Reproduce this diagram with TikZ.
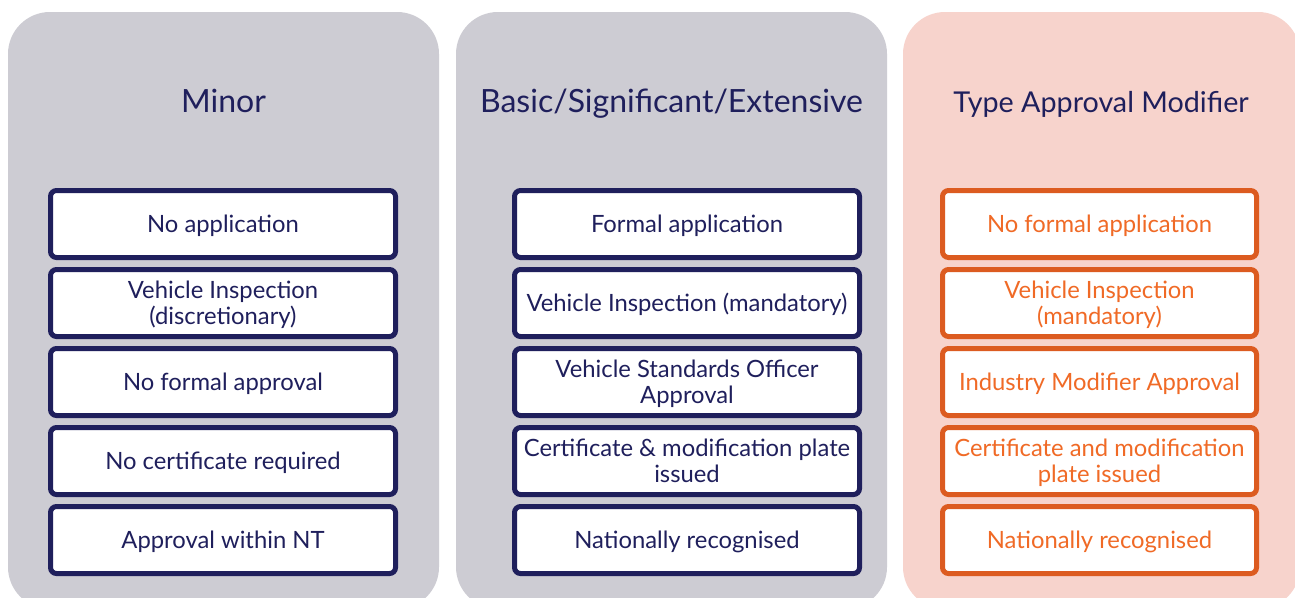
\documentclass[tikz,border=0pt]{standalone}
\usepackage{fontspec}
\setmainfont{Lato}
\definecolor{navy}{HTML}{1F1F5C}
\definecolor{panelgray}{HTML}{CDCCD3}
\definecolor{panelpink}{HTML}{F7D3CC}
\definecolor{orangeb}{HTML}{DC5B20}
\definecolor{oranget}{HTML}{F06A26}
\tikzset{
  panel/.style={rounded corners=42pt},
  ttl/.style={anchor=base, text=navy, font=\fontsize{32}{38}\selectfont, inner sep=0pt},
  boxbase/.style={draw, line width=5pt, fill=white, rounded corners=6pt, inner sep=0pt,
    minimum height=67pt, align=center, font=\fontsize{23.8}{26}\selectfont,
    text height=17pt, text depth=0pt},
  navybox/.style={boxbase, draw=navy, text=navy, minimum width=345pt},
  orangebox/.style={boxbase, draw=orangeb, text=oranget, minimum width=314pt},
  twoline/.style={text height=43pt, text depth=0pt}
}
\begin{document}
\begin{tikzpicture}[x=1pt,y=-1pt]
\useasboundingbox (0,0) rectangle (1295,597);
\clip (0,0) rectangle (1295,597);
\fill[white] (0,0) rectangle (1295,597);
% panels
\fill[panelgray, panel] (8,12) rectangle (439,609);
\fill[panelgray, panel] (456,12) rectangle (887,609);
\fill[panelpink, panel] (903,12) rectangle (1300,609);
% titles
\node[ttl] (t1) at (223.5,112) {Minor};
\node[ttl] (t2) at (671.5,112) {Basic/Significant/Extensive};
\node[ttl, font=\fontsize{28.7}{34}\selectfont] (t3) at (1101,112) {Type Approval Modifier};
% column 1
\node[navybox] (a1) at (223,224) {No application};
\node[navybox, twoline] (a2) at (223,303) {Vehicle Inspection\\(discretionary)};
\node[navybox] (a3) at (223,382) {No formal approval};
\node[navybox] (a4) at (223,461) {No certificate required};
\node[navybox] (a5) at (223,540) {Approval within NT};
% column 2
\node[navybox] (b1) at (687,224) {Formal application};
\node[navybox] (b2) at (687,303) {Vehicle Inspection (mandatory)};
\node[navybox, twoline] (b3) at (687,382) {Vehicle Standards Officer\\Approval};
\node[navybox, twoline] (b4) at (687,461) {Certificate \& modification plate\\issued};
\node[navybox] (b5) at (687,540) {Nationally recognised};
% column 3
\node[orangebox] (c1) at (1099.5,224) {No formal application};
\node[orangebox, twoline] (c2) at (1099.5,303) {Vehicle Inspection\\(mandatory)};
\node[orangebox] (c3) at (1099.5,382) {Industry Modifier Approval};
\node[orangebox, twoline] (c4) at (1099.5,461) {Certificate and modification\\plate issued};
\node[orangebox] (c5) at (1099.5,540) {Nationally recognised};
\end{tikzpicture}
\end{document}
